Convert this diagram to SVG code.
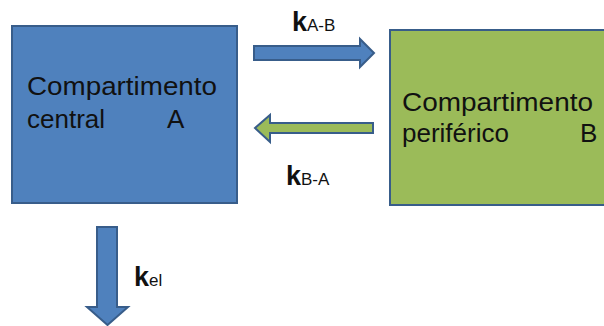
<svg xmlns="http://www.w3.org/2000/svg" width="604" height="326" viewBox="0 0 604 326">
  <style>
    .box { stroke: #385d8a; stroke-width: 2; }
    .blue { fill: #4f81bd; }
    .green { fill: #9bbb59; }
    .arrow { stroke: #385d8a; stroke-width: 2; stroke-linejoin: miter; }
    .lbl { font-family: "Liberation Sans", Arial, sans-serif; font-size: 26px; fill: #111; }
    .k { font-family: "Liberation Sans", Arial, sans-serif; font-size: 27px; font-weight: bold; fill: #111; }
    .sub { font-family: "Liberation Sans", Arial, sans-serif; font-size: 17px; fill: #111; }
  </style>

  <g id="compartimento-central">
    <rect class="box blue" x="12" y="26" width="225" height="177"/>
    <text class="lbl" x="27" y="95" textLength="190" lengthAdjust="spacingAndGlyphs">Compartimento</text>
    <text class="lbl" x="27" y="128">central</text>
    <text class="lbl" x="167" y="128">A</text>
  </g>

  <g id="compartimento-periferico">
    <rect class="box green" x="390" y="30" width="220" height="175"/>
    <text class="lbl" x="402" y="111" textLength="191" lengthAdjust="spacingAndGlyphs">Compartimento</text>
    <text class="lbl" x="402" y="142">periférico</text>
    <text class="lbl" x="580" y="142">B</text>
  </g>

  <g id="connectors">
    <!-- A to B -->
    <path class="arrow blue" d="M254,46 H360 V39 L374,53 L360,67 V60 H254 Z"/>
    <!-- B to A -->
    <path class="arrow green" d="M373,123 H270 V115 L255,128 L270,142 V133 H373 Z"/>
    <!-- elimination -->
    <path class="arrow blue" d="M97,227 H117 V307 H128 L107.5,325 L87,307 H97 Z"/>
  </g>

  <g id="labels">
    <text x="292" y="31"><tspan class="k">k</tspan><tspan class="sub">A-B</tspan></text>
    <text x="286" y="185"><tspan class="k">k</tspan><tspan class="sub">B-A</tspan></text>
    <text x="134" y="286"><tspan class="k">k</tspan><tspan class="sub">el</tspan></text>
  </g>
</svg>
